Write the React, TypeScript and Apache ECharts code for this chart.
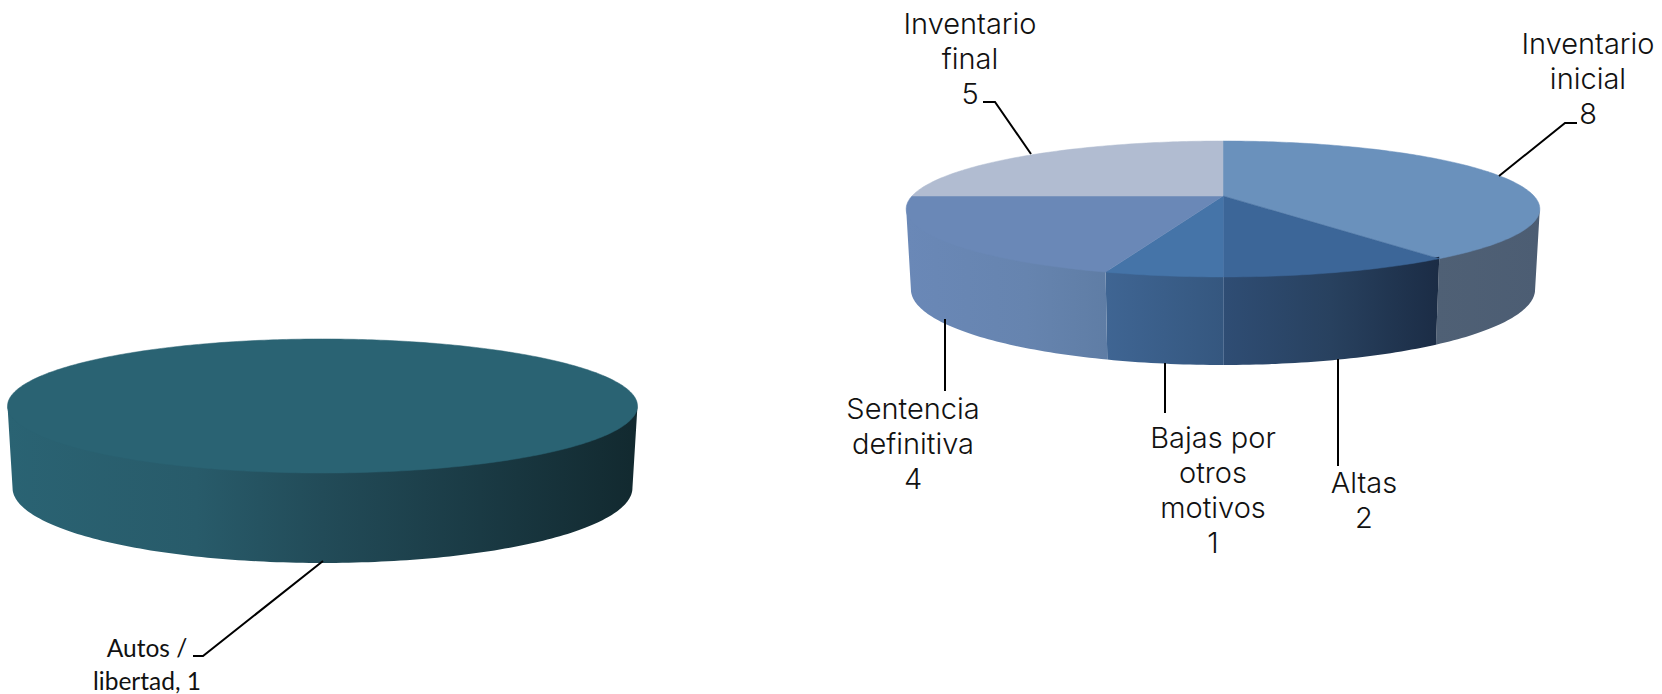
import React, { useEffect, useRef } from "react";
import * as echarts from "echarts";

// ---- data ----
const leftCategories = ["Autos /\nlibertad, 1"];
const leftValues = [1];
const rightCategories = ["Inventario\ninicial", "Altas", "Bajas por\notros\nmotivos", "Sentencia\ndefinitiva", "Inventario\nfinal"];
const rightValues = [8, 2, 1, 4, 5];

// ---- styles ----
const leftTop = ["#2a6373"];
const leftWall = [
  [[0, "#2a6373"], [0.3, "#285b6a"], [0.5, "#224b58"], [0.75, "#1a3a44"], [1, "#12292f"]],
];
const rightTop = ["#6a91bc", "#3c6698", "#4574a8", "#6a88b7", "#b1bcd1"];
const rightWall = [
  [[0, "#4f6075"], [1, "#4c5d73"]],
  [[0, "#2f4d74"], [0.5, "#28415f"], [1, "#1b2c45"]],
  [[0, "#3f6593"], [1, "#35577f"]],
  [[0, "#6a88b7"], [0.6, "#6684af"], [1, "#5f7da5"]],
  [[0, "#b1bcd1"], [1, "#b1bcd1"]],
];

const leftGeo = { cx: 322.5, cy: 393, a: 309, b: 64.5, k: 0.194, cyB: 473.4, bB: 72.2, sB: 0.984 };
const rightGeo = { cx: 1223, cy: 196, a: 311, b: 65.5, k: 0.191, cyB: 275, bB: 72.8, sB: 0.985 };

const leftLabels = [
  { x: 147, y: 631, leader: [[193, 656], [203, 656], [323, 561]] },
];
const rightLabels = [
  { x: 1588, y: 26, leader: [[1577, 123], [1565, 123], [1499, 176]] },
  { x: 1364, y: 465, leader: [[1338, 359], [1338, 466]] },
  { x: 1213, y: 420, leader: [[1165, 363], [1165, 413]] },
  { x: 913, y: 391, leader: [[945, 319], [945, 391]] },
  { x: 970, y: 6, leader: [[983, 102], [995, 102], [1031, 154]] },
];

const RAD = Math.PI / 180;

function project(g: any, deg: number, bottom: boolean) {
  const u = Math.sin(deg * RAD);
  const v = Math.cos(deg * RAD);
  const w = 1 + g.k * v;
  const s = bottom ? g.sB : 1;
  const cy = bottom ? g.cyB : g.cy;
  const b = bottom ? g.bB : g.b;
  return [g.cx + (g.a * s * u) / w, cy - (b * v) / w];
}

function arc(g: any, from: number, to: number, bottom: boolean) {
  const pts: number[][] = [];
  const n = Math.max(2, Math.ceil(Math.abs(to - from)));
  for (let i = 0; i <= n; i++) pts.push(project(g, from + ((to - from) * i) / n, bottom));
  return pts;
}

function pieSeries(
  values: number[], categories: string[], labels: any[], g: any,
  topColors: string[], wallStops: any[], font: any, seamAt: number[]
) {
  const total = values.reduce((s, v) => s + v, 0);
  const extreme = Math.acos(-g.k) / RAD; // angle where the rim turns out of sight
  return {
    type: "custom",
    coordinateSystem: "none",
    silent: true,
    clip: false,
    data: values,
    renderItem: (params: any) => {
      const i = params.dataIndex;
      const start = (values.slice(0, i).reduce((s, v) => s + v, 0) / total) * 360;
      const end = start + (values[i] / total) * 360;
      const children: any[] = [];
      const wFrom = Math.max(start, extreme);
      const wTo = Math.min(end, 360 - extreme);
      if (wTo > wFrom) {
        // the wall's upper edge runs a little under the top face, so that no seam shows
        const inner = arc(g, wFrom, wTo, false).map((p) => [p[0], p[1] - 2]);
        const pts = [
          project(g, wFrom, false),
          ...inner,
          project(g, wTo, false),
          ...arc(g, wTo, wFrom, true),
        ];
        children.push({
          type: "polygon",
          shape: { points: pts },
          style: {
            fill: new echarts.graphic.LinearGradient(0, 0, 1, 0,
              wallStops[i].map((s: any) => ({ offset: s[0], color: s[1] }))),
          },
        });
      }
      const full = end - start >= 360;
      const top = full
        ? arc(g, start, end, false)
        : [[g.cx, g.cy], ...arc(g, start, end, false)];
      children.push({
        type: "polygon",
        shape: { points: top },
        style: { fill: topColors[i], stroke: topColors[i], lineWidth: 0.5 },
      });
      if (seamAt.includes(i)) {
        const rimT = project(g, end, false);
        const rimB = project(g, end, true);
        children.push({
          type: "line",
          shape: { x1: g.cx, y1: g.cy, x2: rimT[0], y2: rimT[1] },
          style: { stroke: "#5f86b3", lineWidth: 1 },
        });
        children.push({
          type: "line",
          shape: { x1: rimT[0], y1: rimT[1], x2: rimB[0], y2: rimB[1] },
          style: { stroke: "#7c95b5", lineWidth: 1 },
        });
      }
      const lab = labels[i];
      children.push({
        type: "polyline",
        shape: { points: lab.leader },
        style: { fill: "none", stroke: "#000", lineWidth: 2 },
      });
      const text = categories[i].includes(String(values[i]))
        ? categories[i]
        : `${categories[i]}\n${values[i]}`;
      children.push({
        type: "text",
        x: lab.x,
        y: lab.y,
        style: {
          text,
          align: "center",
          verticalAlign: "top",
          fill: font.color,
          fontFamily: font.family,
          fontSize: font.size,
          fontWeight: font.weight,
          lineHeight: font.lineHeight,
        },
      });
      return { type: "group", children };
    },
  };
}

export default function App() {
  const ref = useRef<HTMLDivElement>(null);
  useEffect(() => {
    document.body.style.margin = "0";
    const chart = echarts.init(ref.current!, undefined, { renderer: "svg" });
    chart.setOption({
      animation: false,
      backgroundColor: "#ffffff",
      series: [
        pieSeries(leftValues, leftCategories, leftLabels, leftGeo, leftTop, leftWall,
          { family: "Lato", size: 24.5, weight: 400, lineHeight: 33, color: "#111" }, []),
        pieSeries(rightValues, rightCategories, rightLabels, rightGeo, rightTop, rightWall,
          { family: "Inter", size: 29, weight: 300, lineHeight: 35, color: "#111" }, [1]),
      ],
    });
    return () => chart.dispose();
  }, []);
  return <div ref={ref} style={{ width: 1662, height: 694 }} />;
}
